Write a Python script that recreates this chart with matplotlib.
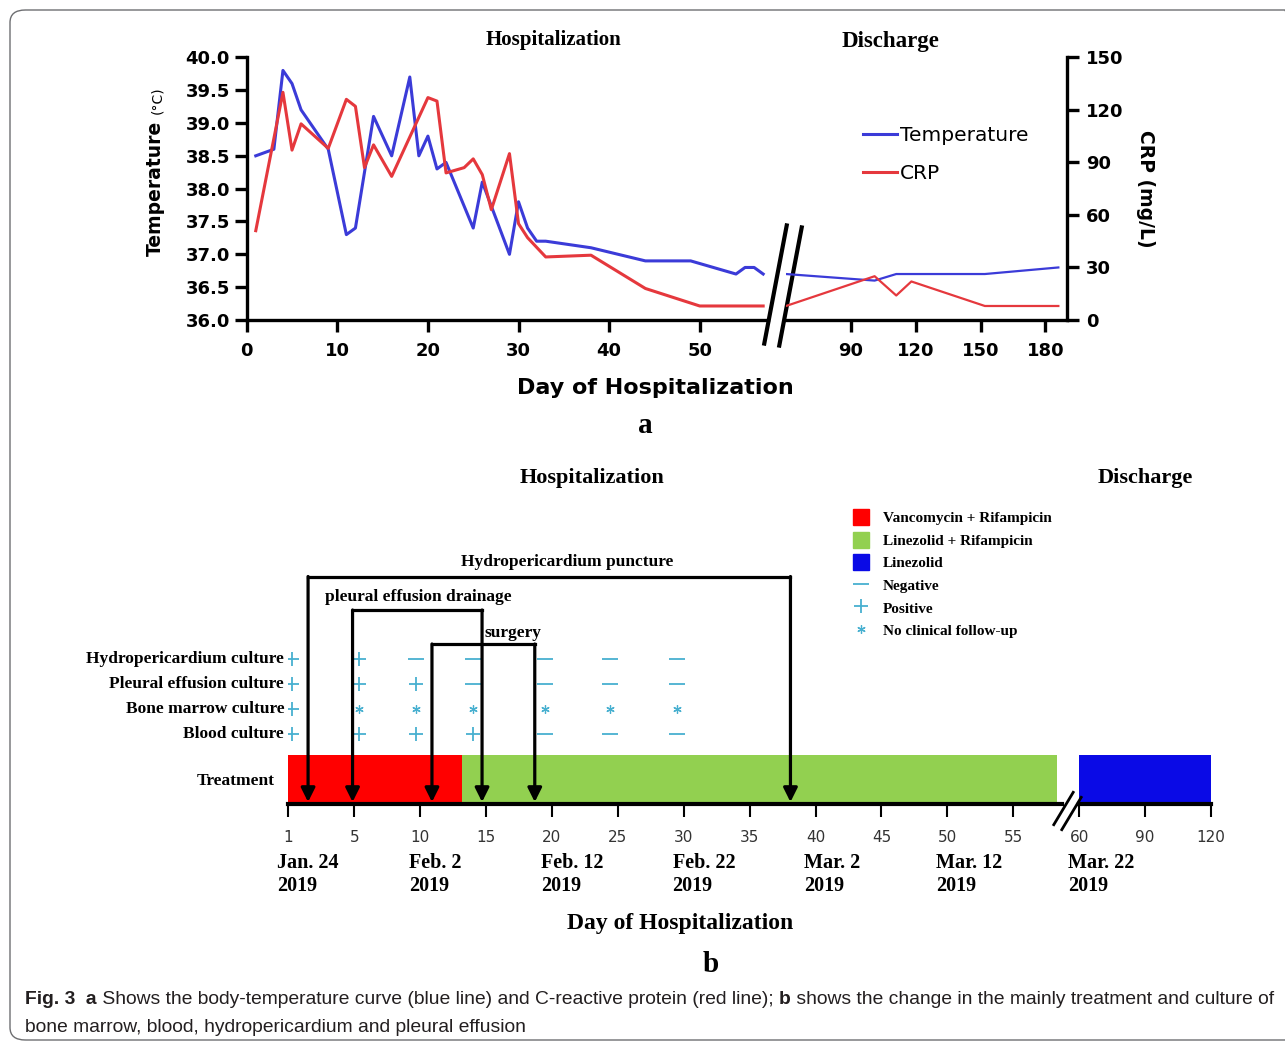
import numpy as np
import matplotlib
matplotlib.use('Agg')
import matplotlib.pyplot as plt
from matplotlib.lines import Line2D
from matplotlib.patches import Patch, FancyBboxPatch

# --- panel a: temperature (°C) and CRP (mg/L) by day of hospitalization ---
temp_days = [1, 3, 4, 5, 6, 9, 11, 12, 14, 16, 18, 19, 20, 21, 22, 25, 26, 29, 30, 31, 32, 33, 38,
             44, 49, 54, 55, 56, 57]
temp_vals = [38.5, 38.6, 39.8, 39.6, 39.2, 38.6, 37.3, 37.4, 39.1, 38.5, 39.7, 38.5, 38.8, 38.3, 38.4,
             37.4, 38.1, 37.0, 37.8, 37.4, 37.2, 37.2, 37.1, 36.9, 36.9, 36.7, 36.8, 36.8, 36.7]
temp_days_late = [60, 101, 111, 152, 186]
temp_vals_late = [36.7, 36.6, 36.7, 36.7, 36.8]

crp_days = [1, 4, 5, 6, 9, 11, 12, 13, 14, 16, 20, 21, 22, 24, 25, 26, 27, 29, 30, 31, 33, 38, 44, 50, 57]
crp_vals = [51, 130, 97, 112, 98, 126, 122, 87, 100, 82, 127, 125, 84, 87, 92, 83, 63, 95, 55, 47, 36,
            37, 18, 8, 8]
crp_days_late = [60, 101, 111, 118, 152, 186]
crp_vals_late = [8, 25, 14, 22, 8, 8]

# --- panel b: treatment, procedures and cultures ---
tick_days = [1, 5, 10, 15, 20, 25, 30, 35, 40, 45, 50, 55, 60, 90, 120]
treat_names = ['Vancomycin + Rifampicin', 'Linezolid + Rifampicin', 'Linezolid']
treat_start = [1, 13.2, 60]
treat_end = [13.2, 58.3, 120]
proc_names = ['Hydropericardium puncture', 'pleural effusion drainage', 'surgery']
proc_start = [2.2, 4.9, 10.9]
proc_end = [38.1, 14.7, 18.7]
culture_rows = ['Hydropericardium culture', 'Pleural effusion culture', 'Bone marrow culture', 'Blood culture']
culture_days = [1.2, 5.4, 9.7, 14, 19.5, 24.4, 29.5]
culture_results = [
    ['+', '+', '-', '-', '-', '-', '-'],
    ['+', '+', '+', '-', '-', '-', '-'],
    ['+', '*', '*', '*', '*', '*', '*'],
    ['+', '+', '+', '+', '-', '-', '-'],
]
date_ticks = [1, 10, 20, 30, 40, 50, 60]
date_labels = ['Jan. 24\n2019', 'Feb. 2\n2019', 'Feb. 12\n2019', 'Feb. 22\n2019',
               'Mar. 2\n2019', 'Mar. 12\n2019', 'Mar. 22\n2019']

BLUE = '#3b3bd8'
RED = '#e5383d'
CYAN = '#48b0d0'
treat_colors = ['#ff0000', '#92d050', '#0a0ae6']
SERIF = 'Liberation Serif'

W, H = 1285, 1046
fig = plt.figure(figsize=(W / 100, H / 100), dpi=100)


def box(x0, y0, x1, y1):
    # pixel box (top-left origin) -> figure fraction rect
    return [x0 / W, 1 - y1 / H, (x1 - x0) / W, (y1 - y0) / H]


# ================= panel a =================
ax_l = fig.add_axes(box(246.7, 57.3, 767.7, 320))
ax_r = fig.add_axes(box(786, 57.3, 1067, 320))
ax_r.patch.set_visible(False)
ax_l.set_xlim(0, 57.5)
ax_r.set_xlim(60, 190)
for ax in (ax_l, ax_r):
    ax.set_ylim(36, 40)
    ax.spines['top'].set_visible(False)
    ax.spines['right'].set_visible(False)
    ax.spines['bottom'].set_linewidth(2.4)
    ax.spines['left'].set_linewidth(2.4)
    ax.tick_params(width=2.4, length=8.5)
    ax.tick_params(axis='x', pad=7)
    ax.tick_params(axis='y', pad=3.5)
ax_r.spines['left'].set_visible(False)

yt = np.arange(36, 40.01, 0.5)
ax_l.set_yticks(yt, ['%.1f' % v for v in yt], fontsize=13, fontweight='bold')
ax_l.set_xticks(range(0, 51, 10), [str(v) for v in range(0, 51, 10)], fontsize=13, fontweight='bold')
ax_r.set_xticks([90, 120, 150, 180], ['90', '120', '150', '180'], fontsize=13, fontweight='bold')

ax_l.plot(temp_days, temp_vals, color=BLUE, lw=2.2)
ax_r.plot(temp_days_late, temp_vals_late, color=BLUE, lw=1.6)

crp_l = ax_l.twinx()
crp_l.set_ylim(0, 150)
crp_l.axis('off')
crp_l.plot(crp_days, crp_vals, color=RED, lw=2.2)

crp_r = ax_r.twinx()
crp_r.set_ylim(0, 150)
for s in ('top', 'left', 'bottom'):
    crp_r.spines[s].set_visible(False)
crp_r.spines['right'].set_linewidth(2.4)
crp_r.tick_params(width=2.4, length=8.5, pad=5)
crp_r.set_yticks(range(0, 151, 30), [str(v) for v in range(0, 151, 30)], fontsize=13, fontweight='bold')
crp_r.plot(crp_days_late, crp_vals_late, color=RED, lw=1.6)
# twinx turns the left ticks back on
ax_r.tick_params(axis='y', left=False, labelleft=False, right=False, labelright=False)

# axis break "//"
slash = [(-0.19, -1), (0.19, 1)]
ax_l.plot([58.35, 60.0], [36.55, 36.52], marker=slash, markersize=88, mew=3, color='k',
          ls='none', clip_on=False, zorder=5)

fig.legend([Line2D([], [], color=BLUE, lw=2.2), Line2D([], [], color=RED, lw=2.2)],
           ['Temperature', 'CRP'], loc='upper left', bbox_to_anchor=(863 / W, 1 - 126 / H),
           frameon=False, fontsize=14.5, handlelength=1.7, handletextpad=0.15,
           labelspacing=0.95, borderpad=0, borderaxespad=0)

fig.text(155 / W, 1 - 188 / H, 'Temperature', rotation=90, ha='center', va='center',
         fontsize=13.5, fontweight='bold')
fig.text(157 / W, 1 - 100 / H, '(°C)', rotation=90, ha='center', va='center', fontsize=10)
fig.text(1146 / W, 1 - 189 / H, 'CRP (mg/L)', rotation=270, ha='center', va='center',
         fontsize=13.5, fontweight='bold')
fig.text(655 / W, 1 - 388 / H, 'Day of Hospitalization', ha='center', va='center',
         fontsize=16, fontweight='bold')
fig.text(645 / W, 1 - 426 / H, 'a', ha='center', va='center', fontsize=21, fontweight='bold', family=SERIF)
fig.text(553 / W, 1 - 40 / H, 'Hospitalization', ha='center', va='center', fontsize=15,
         fontweight='bold', family=SERIF)
fig.text(890 / W, 1 - 42 / H, 'Discharge', ha='center', va='center', fontsize=16.5,
         fontweight='bold', family=SERIF)

# ================= panel b =================
slots = np.arange(len(tick_days))


def fwd(d):
    return np.interp(d, tick_days, slots)


def inv(i):
    return np.interp(i, slots, tick_days)


ax_b = fig.add_axes(box(288.3, 554, 288.3 + 14 * 65.9, 804))
ax_b.patch.set_visible(False)
ax_b.set_xscale('function', functions=(fwd, inv))
ax_b.set_xlim(1, 120)
ax_b.set_ylim(0, 5)
for s in ax_b.spines.values():
    s.set_visible(False)
ax_b.set_yticks([])
ax_b.set_xticks(tick_days, [str(d) for d in tick_days], fontsize=11, color='#333333')
ax_b.tick_params(axis='x', length=9, width=1.5, pad=10)

ax_b.barh(0.5, np.subtract(treat_end, treat_start), left=treat_start, height=0.98,
          color=treat_colors, zorder=1)
for x0, x1 in [(1, 58.7), (60, 120)]:
    ax_b.plot([x0, x1], [0, 0], color='k', lw=3, zorder=3, clip_on=False)
ax_b.plot([58.75, 59.35], [-0.07, -0.18], marker=[(-0.6, -1), (0.6, 1)], markersize=25, mew=2,
          color='k', ls='none', clip_on=False)

# culture results
marker_style = {'+': dict(marker='+', ms=10, mew=1.3),
                '-': dict(marker='_', ms=12, mew=1.3),
                '*': dict(marker=(6, 2, 0), ms=6, mew=0.9)}
row_y = 2.9 - 0.5 * np.arange(len(culture_rows))
for name, y, res in zip(culture_rows, row_y, culture_results):
    ax_b.annotate(name, xy=(1, y), xytext=(-3, 0), textcoords='offset points', ha='right',
                  va='center', fontsize=12.5, fontweight='bold', family=SERIF, annotation_clip=False)
    for d, r in zip(culture_days, res):
        ax_b.plot(d, y, color=CYAN, ls='none', zorder=2, **marker_style[r])
ax_b.annotate('Treatment', xy=(1, 0.46), xytext=(-9.5, 0), textcoords='offset points', ha='right',
              va='center', fontsize=12.5, fontweight='bold', family=SERIF, annotation_clip=False)

# procedure brackets
proc_top = [4.55, 3.88, 3.2]
label_dx = [13, 1, 21]
label_dy = [10.5, 9.5, 8]
for name, s, e, top, dx, dy in zip(proc_names, proc_start, proc_end, proc_top, label_dx, label_dy):
    ax_b.plot([s, e], [top, top], color='k', lw=2.3, solid_capstyle='projecting', zorder=4)
    for x in (s, e):
        ax_b.annotate('', xy=(x, 0.04), xytext=(x, top),
                      arrowprops=dict(arrowstyle='-|>,head_length=0.6,head_width=0.3', lw=2.3,
                                      color='k', shrinkA=0, shrinkB=0, mutation_scale=14), zorder=4)
    mid = inv((fwd(s) + fwd(e)) / 2)
    ax_b.annotate(name, xy=(mid, top), xytext=(dx, dy), textcoords='offset points', ha='center',
                  va='center', fontsize=12.5, fontweight='bold', family=SERIF)

for d, lab in zip(date_ticks, date_labels):
    ax_b.annotate(lab, xy=(d, 0), xytext=(-8, -35), textcoords='offset points', ha='left', va='top',
                  fontsize=14.5, fontweight='bold', family=SERIF, linespacing=1.25,
                  annotation_clip=False)

leg_handles = [Patch(color=c) for c in treat_colors] + \
    [Line2D([], [], color=CYAN, ls='none', **marker_style[k]) for k in ('-', '+', '*')]
fig.legend(leg_handles, treat_names + ['Negative', 'Positive', 'No clinical follow-up'],
           loc='upper left', bbox_to_anchor=(853 / W, 1 - 509 / H), frameon=False,
           prop=dict(family=SERIF, weight='bold', size=11), handlelength=1.05, handleheight=1.25,
           handletextpad=0.9, labelspacing=0.42, borderpad=0, borderaxespad=0)

fig.text(592 / W, 1 - 478 / H, 'Hospitalization', ha='center', va='center', fontsize=16,
         fontweight='bold', family=SERIF)
fig.text(1145 / W, 1 - 478 / H, 'Discharge', ha='center', va='center', fontsize=16,
         fontweight='bold', family=SERIF)
fig.text(680 / W, 1 - 924 / H, 'Day of Hospitalization', ha='center', va='center', fontsize=17,
         fontweight='bold', family=SERIF)
fig.text(711 / W, 1 - 965 / H, 'b', ha='center', va='center', fontsize=21, fontweight='bold', family=SERIF)

# ================= caption and frame =================
cap = dict(family=['Liberation Sans Narrow', 'Liberation Sans'], fontsize=13.9, color='#231f20')
t = fig.text(25 / W, 1 - 1000 / H, 'Fig. 3', fontweight='bold', va='center', **cap)
for s, w in [('  a', 'bold'),
             (' Shows the body-temperature curve (blue line) and C-reactive protein (red line); ', 'normal'),
             ('b', 'bold'),
             (' shows the change in the mainly treatment and culture of', 'normal')]:
    t = ax_b.annotate(s, xy=(1, 0), xycoords=t, ha='left', va='bottom', fontweight=w,
                      annotation_clip=False, **cap)
fig.text(25 / W, 1 - 1027 / H, 'bone marrow, blood, hydropericardium and pleural effusion',
         va='center', **cap)

fig.add_artist(FancyBboxPatch((10 / W, 1 - 1040 / H), 1290 / W, 1030 / H,
                              boxstyle='round,pad=0,rounding_size=0.012', transform=fig.transFigure,
                              fill=False, ec='#6d6e71', lw=1.0, clip_on=False))

fig.savefig('out.png', dpi=100)
